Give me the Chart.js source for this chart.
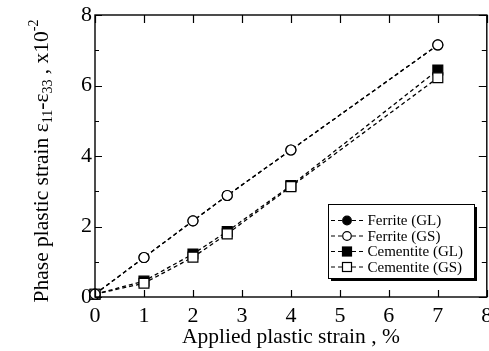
<!DOCTYPE html>
<html><head><meta charset="utf-8">
<script src="https://cdn.jsdelivr.net/npm/chart.js@4"></script>
<style>html,body{margin:0;padding:0;background:#fff;overflow:hidden}#wrap{width:489px;height:351px;overflow:hidden}</style>
</head><body><div id="wrap"><canvas id="c" width="495" height="351"></canvas></div>
<script>
const xValues = [0, 1, 2, 2.7, 4, 7];
const ferriteGL = [0.08, 1.12, 2.16, 2.88, 4.17, 7.15];
const ferriteGS = [0.08, 1.12, 2.16, 2.88, 4.17, 7.15];
const cementiteGL = [0.08, 0.45, 1.22, 1.86, 3.16, 6.44];
const cementiteGS = [0.08, 0.39, 1.13, 1.79, 3.13, 6.22];
const seriesNames = ['Ferrite (GL)', 'Ferrite (GS)', 'Cementite (GL)', 'Cementite (GS)'];
const xTicks = [0,1,2,3,4,5,6,7,8];
const yTicks = [0,2,4,6,8];
const yMinorTicks = [1,3,5,7];

const FONT = '"Liberation Serif","Times New Roman",serif';
function pts(ys){ return xValues.map((x,i)=>({x:x,y:ys[i]})); }
const styles = [
  {data: ferriteGL, pointStyle:'circle', fill:'#000', radius:5, order:1},
  {data: ferriteGS, pointStyle:'circle', fill:'#fff', radius:5, order:0},
  {data: cementiteGL, pointStyle:'rect', fill:'#000', radius:7, order:1},
  {data: cementiteGS, pointStyle:'rect', fill:'#fff', radius:7, order:0}
];
const datasets = styles.map((s,i)=>({
  label: seriesNames[i], data: pts(s.data), order: s.order,
  borderColor:'#000', borderWidth:1.3, borderDash:[4,3],
  pointStyle:s.pointStyle, pointRadius:s.radius, pointBackgroundColor:s.fill,
  pointBorderColor:'#000', pointBorderWidth:1.2, showLine:true, tension:0, clip:false
}));

const decor = {
  id:'decor',
  afterDraw(chart){
    const ctx = chart.ctx, a = chart.chartArea, xs = chart.scales.x, ys = chart.scales.y;
    ctx.save();
    ctx.strokeStyle = '#000'; ctx.lineWidth = 1.4;
    ctx.strokeRect(a.left, a.top, a.right - a.left, a.bottom - a.top);
    ctx.lineWidth = 1.2;
    ctx.beginPath();
    xTicks.forEach(v=>{ const p = Math.round(xs.getPixelForValue(v))+0.5;
      ctx.moveTo(p, a.bottom); ctx.lineTo(p, a.bottom-7);
      ctx.moveTo(p, a.top); ctx.lineTo(p, a.top+8); });
    yTicks.forEach(v=>{ const p = Math.round(ys.getPixelForValue(v))+0.5;
      ctx.moveTo(a.left, p); ctx.lineTo(a.left+7, p);
      ctx.moveTo(a.right, p); ctx.lineTo(a.right-8, p); });
    yMinorTicks.forEach(v=>{ const p = Math.round(ys.getPixelForValue(v))+0.5;
      ctx.moveTo(a.left, p); ctx.lineTo(a.left+4, p);
      ctx.moveTo(a.right, p); ctx.lineTo(a.right-5, p); });
    ctx.stroke();

    // y title with subscripts
    const segs = [
      ['Phase plastic strain \u03b5', 0], ['11', 1], ['-\u03b5', 0], ['33', 1], [' , x10', 0], ['-2', 2]
    ];
    const big = '21.5px ' + FONT, small = '14px ' + FONT;
    let total = 0;
    segs.forEach(s=>{ ctx.font = s[1] ? small : big; total += ctx.measureText(s[0]).width; });
    ctx.translate(48, 161); ctx.rotate(-Math.PI/2);
    ctx.fillStyle = '#000'; ctx.textBaseline = 'alphabetic'; ctx.textAlign = 'left';
    let x = -total/2;
    segs.forEach(s=>{
      ctx.font = s[1] ? small : big;
      const dy = s[1] === 1 ? 4 : (s[1] === 2 ? -10 : 0);
      ctx.fillText(s[0], x, dy);
      x += ctx.measureText(s[0]).width;
    });
    ctx.restore();

    // legend
    ctx.save();
    const L = 328, T = 204, W = 146, H = 74;
    ctx.fillStyle = '#000'; ctx.fillRect(L+3, T+3, W, H);
    ctx.fillStyle = '#fff'; ctx.fillRect(L, T, W, H);
    ctx.strokeStyle = '#000'; ctx.lineWidth = 1; ctx.strokeRect(L+0.5, T+0.5, W, H);
    const rows = [220.5, 236, 251.5, 267];
    chart.data.datasets.forEach((d,i)=>{
      const y = rows[i];
      ctx.setLineDash([4,3]); ctx.lineWidth = 1.2; ctx.strokeStyle = '#000';
      ctx.beginPath(); ctx.moveTo(331, y); ctx.lineTo(364, y); ctx.stroke();
      ctx.setLineDash([]);
      ctx.fillStyle = d.pointBackgroundColor;
      ctx.lineWidth = 1.2;
      if (d.pointStyle === 'circle') {
        ctx.beginPath(); ctx.arc(347, y, 4.3, 0, Math.PI*2); ctx.fill(); ctx.stroke();
      } else {
        ctx.fillRect(342.5, y-4.5, 9, 9); ctx.strokeRect(342.5, y-4.5, 9, 9);
      }
      ctx.fillStyle = '#000'; ctx.font = '15px ' + FONT; ctx.textBaseline = 'middle';
      ctx.fillText(d.label, 367.5, y+1);
    });
    ctx.restore();
  }
};

new Chart(document.getElementById('c'), {
  type:'scatter',
  data:{datasets},
  options:{
    responsive:false, animation:false, devicePixelRatio:1,
    layout:{padding:{top:15, right:0, left:0, bottom:0}},
    plugins:{legend:{display:false}, tooltip:{enabled:false}},
    scales:{
      x:{type:'linear', min:0, max:8,
        afterBuildTicks(s){ s.ticks = xTicks.map(v=>({value:v})); },
        afterFit(s){ s.height = 54; s.paddingLeft = 0; s.paddingRight = 0; },
        grid:{display:false, drawTicks:false}, border:{display:false},
        ticks:{color:'#000', font:{family:FONT, size:22}, padding:6, maxRotation:0, autoSkip:false},
        title:{display:true, text:'Applied plastic strain , %', color:'#000', font:{family:FONT, size:21.5}, padding:{top:0, bottom:1}}
      },
      y:{type:'linear', min:0, max:8,
        afterBuildTicks(s){ s.ticks = yTicks.map(v=>({value:v})); },
        afterFit(s){ s.width = 95; s.paddingTop = 0; s.paddingBottom = 0; },
        grid:{display:false, drawTicks:false}, border:{display:false},
        ticks:{color:'#000', font:{family:FONT, size:22}, padding:3, autoSkip:false}
      }
    }
  },
  plugins:[decor]
});
</script></body></html>
